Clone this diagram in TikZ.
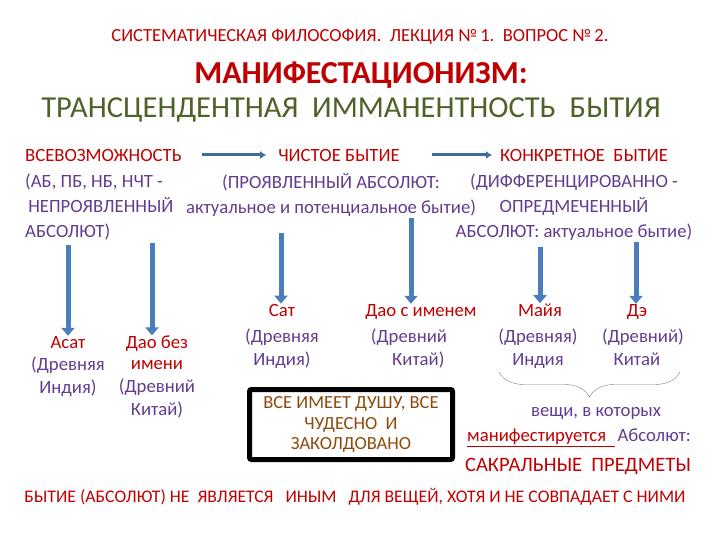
\documentclass[tikz,border=0pt]{standalone}
\usepackage{fontspec}
\setmainfont{Carlito}
\usetikzlibrary{arrows.meta,positioning,decorations.pathreplacing}
\definecolor{lectred}{HTML}{C00000}
\definecolor{lilac}{HTML}{623C90}
\definecolor{olive}{HTML}{4F6228}
\definecolor{rust}{HTML}{8E4A0C}
\definecolor{flowblue}{HTML}{4A7EBB}
\tikzset{
  hd/.style={text=lectred, inner sep=0pt, font=\fontsize{18.7}{25}\selectfont},
  info/.style={text=lilac, inner sep=0pt, align=center, font=\fontsize{18.7}{25}\selectfont},
  term/.style={text=lectred, inner sep=0pt, align=center, font=\fontsize{18.7}{21}\selectfont},
  origin/.style={text=lilac, inner sep=0pt, align=center, font=\fontsize{18.7}{22.5}\selectfont},
  flow/.style={color=flowblue, line width=5pt, -{Triangle[width=13pt,length=8pt]}},
  across/.style={color=flowblue!85!black, line width=3pt, -{Latex[width=8pt,length=6pt]}},
  motto/.style={draw=black, line width=5pt, rounded corners=2pt, text=rust, align=center,
    minimum width=203pt, minimum height=70pt, font=\fontsize{18.5}{20.5}\selectfont},
  brc/.style={draw=gray, thin, decorate, decoration={brace, mirror, amplitude=25pt}}
}
\begin{document}
\begin{tikzpicture}[x=1pt, y=-1pt]
\useasboundingbox (0,0) rectangle (720,540);

% titles
\node[hd, font=\fontsize{18.5}{20}\selectfont] (course) at (360,37)
  {СИСТЕМАТИЧЕСКАЯ ФИЛОСОФИЯ.\ \ ЛЕКЦИЯ №\,1.\ \ ВОПРОС №\,2.};
\node[hd, font=\fontsize{32}{34}\selectfont\bfseries] (topic) at (361,75) {МАНИФЕСТАЦИОНИЗМ:};
\node[inner sep=0pt, text=olive, font=\fontsize{30.5}{32}\selectfont] (subtopic) at (351,110)
  {ТРАНСЦЕНДЕНТНАЯ\ \ ИММАНЕНТНОСТЬ\ \ БЫТИЯ};

% three levels
\node[hd, anchor=west] (all) at (25,155) {ВСЕВОЗМОЖНОСТЬ};
\node[hd] (pure) at (339,155) {ЧИСТОЕ БЫТИЕ};
\node[hd, anchor=west] (concrete) at (500,155) {КОНКРЕТНОЕ\ \ БЫТИЕ};
\draw[across, shorten <=20pt, shorten >=12pt] (all) -- (pure);
\draw[across, shorten <=32pt, shorten >=8pt] (pure) -- (concrete);

\node[info, align=left, anchor=west] (allinfo) at (25,207)
  {(АБ, ПБ, НБ, НЧТ -\\\,НЕПРОЯВЛЕННЫЙ\\АБСОЛЮТ)};
\node[info] (pureinfo) at (331,194.5)
  {(ПРОЯВЛЕННЫЙ АБСОЛЮТ:\\актуальное и потенциальное бытие)};
\node[info] (concreteinfo) at (574,207)
  {(ДИФФЕРЕНЦИРОВАННО -\\ОПРЕДМЕЧЕННЫЙ\\АБСОЛЮТ: актуальное бытие)};

% examples
\node[term, anchor=base] (asat) at (68,348) {Асат};
\node[origin, anchor=north] (asatw) at (68,357) {(Древняя\\Индия)};
\node[term] (daonn) at (157,352.5) {Дао без\\имени};
\node[origin, anchor=north] (daonnw) at (157,379) {(Древний\\Китай)};
\node[term, anchor=base] (sat) at (282,316) {Сат};
\node[origin, anchor=north] (satw) at (282,329) {(Древняя\\Индия)};
\node[term, anchor=base] (daon) at (421,316) {Дао с именем};
\node[origin, anchor=north] (daonw) at (409,329) {(Древний\\\quad Китай)};
\node[term, anchor=base] (maya) at (540,316) {Майя};
\node[origin, anchor=north] (mayaw) at (538,329) {(Древняя)\\Индия};
\node[term, anchor=base] (de) at (637,316) {Дэ};
\node[origin, anchor=north] (dew) at (643,329) {(Древний)\\Китай\hspace*{12pt}};

\coordinate (asattop) at (68,245);
\coordinate (daonntop) at (152,243);
\coordinate (sattop) at (281,233);
\coordinate (daontop) at (411,218);
\coordinate (mayatop) at (540,247);
\coordinate (detop) at (636,242);
\draw[flow] (asattop) -- (asattop |- asat.north);
\draw[flow] (daonntop) -- (daonntop |- daonn.north);
\draw[flow] (sattop) -- (sattop |- sat.north);
\draw[flow] (daontop) -- (daontop |- daon.north);
\draw[flow] (mayatop) -- (mayatop |- maya.north);
\draw[flow] (detop) -- (detop |- de.north);

% animism box
\node[motto] (soul) at (351,424.5) {ВСЕ ИМЕЕТ ДУШУ, ВСЕ\\ЧУДЕСНО\ \ И\\ЗАКОЛДОВАНО};

% sacred things
\coordinate (brl) at (499,372);
\coordinate (brr) at (680,372);
\draw[brc] (brl) -- (brr);
\node[origin] (things) at (596,413) {вещи, в которых};
\node[origin, anchor=west] (manif) at (467,438)
  {{\color{lectred}\underline{манифестируется\ \ }}\,Абсолют:};
\node[hd, font=\fontsize{20.5}{22}\selectfont] (sacred) at (578,466) {САКРАЛЬНЫЕ\ \ ПРЕДМЕТЫ};

\node[hd, font=\fontsize{17.7}{20}\selectfont] (thesis) at (355,497)
  {БЫТИЕ (АБСОЛЮТ) НЕ\ \ ЯВЛЯЕТСЯ\ \ \ ИНЫМ\ \ \ ДЛЯ ВЕЩЕЙ, ХОТЯ И НЕ СОВПАДАЕТ С НИМИ};
\end{tikzpicture}
\end{document}
